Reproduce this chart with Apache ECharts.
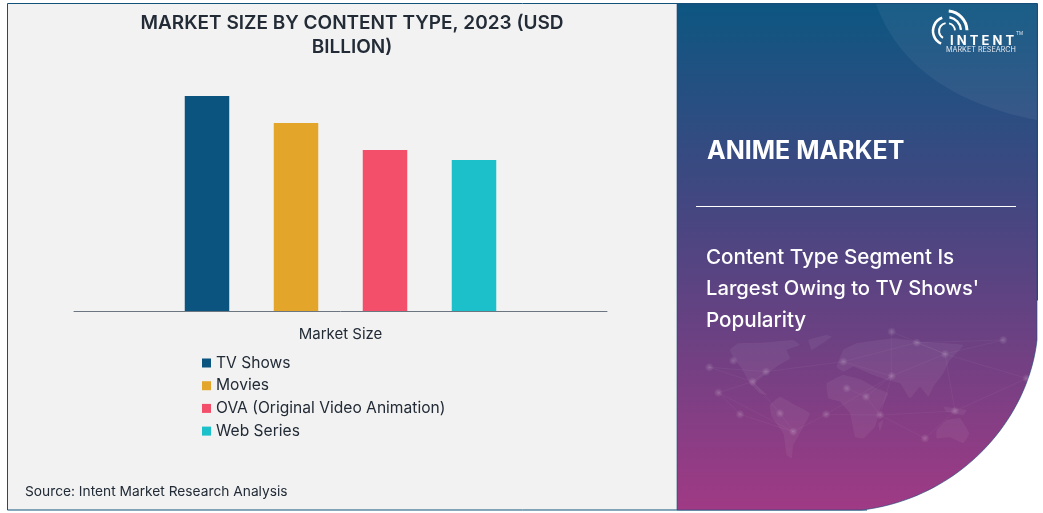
<!DOCTYPE html>
<html><head><meta charset="utf-8">
<style>html,body{margin:0;padding:0;background:#fff}#c{width:1043px;height:513px}</style>
<script src="https://cdn.jsdelivr.net/npm/echarts@6/dist/echarts.min.js"></script>
</head><body><div id="c"></div>
<script>
var categories = ['Market Size'];
var seriesNames = ['TV Shows','Movies','OVA (Original Video Animation)','Web Series'];
var tvShows = [21.5];
var movies = [18.8];
var ova = [16.1];
var webSeries = [15.1];
var seriesColors = ['#0b5480','#e3a62b','#f44f6a','#1cc0cb'];
var seriesValues = [tvShows, movies, ova, webSeries];

var FONT = 'Inter, "Noto Sans", sans-serif';

function bez(p0,p1,p2,p3,n){var o=[];for(var i=0;i<=n;i++){var t=i/n,u=1-t;
 o.push([u*u*u*p0[0]+3*u*u*t*p1[0]+3*u*t*t*p2[0]+t*t*t*p3[0],u*u*u*p0[1]+3*u*u*t*p1[1]+3*u*t*t*p2[1]+t*t*t*p3[1]]);}return o;}
function mp(a){return a.map(function(p){return [680+p[0]/3,330+p[1]/3];});}

var panelPts=[[677,4],[1037,4],[1037,340]].concat(bez([1037,340],[1028,420],[960,498],[862,510],40)).concat([[677,510]]);
var glossPts=[[876,4],[1037,4],[1037,120]].concat(bez([1037,120],[960,105],[900,70],[876,4],30));

// decorative world map backdrop (crop coordinates, not data)
var land=[
 [[150,60],[175,40],[250,38],[340,30],[360,45],[320,60],[330,85],[290,110],[255,135],[225,160],[262,195],[240,190],[210,160],[185,115],[165,90]],
 [[385,30],[440,15],[455,20],[420,45],[395,60]],
 [[270,225],[300,200],[345,225],[390,250],[365,300],[340,345],[335,385],[320,375],[310,310],[275,260]],
 [[440,160],[490,135],[545,150],[590,175],[625,190],[600,240],[585,290],[550,325],[525,320],[510,250],[480,215],[445,205]],
 [[470,110],[490,60],[530,40],[640,25],[720,35],[850,45],[810,90],[790,130],[760,170],[745,200],[720,170],[690,205],[660,160],[620,150],[580,135],[520,110],[490,125]],
 [[770,300],[800,270],[840,265],[868,310],[850,340],[810,322],[770,325]],
 [[790,230],[860,240],[850,255],[800,245]],
 [[595,280],[610,270],[600,305]]
];
var nodes=[[88,112],[160,92],[115,188],[180,253],[218,155],[258,125],[340,305],[438,253],[490,95],[635,138],[558,200],[600,255],[825,243],[795,72],[970,30],[635,5],[735,325],[1040,145],[500,175],[710,38],[300,250]];
var links=[[0,4],[0,5],[2,4],[2,3],[3,6],[4,5],[5,8],[6,7],[7,11],[7,9],[8,9],[9,13],[9,11],[10,11],[10,18],[9,10],[11,12],[12,13],[13,14],[13,15],[15,9],[12,16],[11,16],[13,17],[12,17],[8,19],[19,13],[20,6],[20,4],[14,19],[2,6]];

var graphics=[
 {type:'rect',z:-10,shape:{x:7.5,y:3.5,width:1030,height:506.5},style:{fill:'#f2f2f2',stroke:'#12527a',lineWidth:1}},
 {type:'polygon',z:-9,shape:{points:[[867,440],[1038,300],[1038,512],[867,512]]},style:{fill:'#ffffff'}},
 {type:'polygon',z:-8,shape:{points:panelPts},style:{fill:new echarts.graphic.LinearGradient(0,0,0,1,[{offset:0,color:'#0d5681'},{offset:0.42,color:'#474681'},{offset:1,color:'#a03a85'}]),stroke:'#1d4a78',lineWidth:0.6}},
 {type:'polygon',z:-7,shape:{points:glossPts},style:{fill:new echarts.graphic.LinearGradient(0,0,0,1,[{offset:0,color:'rgba(255,255,255,0.05)'},{offset:1,color:'rgba(255,255,255,0.06)'}])}}
];
land.forEach(function(l){graphics.push({type:'polygon',z:-6,shape:{points:mp(l),smooth:0.1},style:{fill:'rgba(255,255,255,0.055)'}});});
links.forEach(function(k){var a=mp([nodes[k[0]],nodes[k[1]]]);graphics.push({type:'line',z:-6,shape:{x1:a[0][0],y1:a[0][1],x2:a[1][0],y2:a[1][1]},style:{stroke:'rgba(255,255,255,0.07)',lineWidth:0.6}});});
mp(nodes).forEach(function(p){graphics.push({type:'circle',z:-6,shape:{cx:p[0],cy:p[1],r:4.5},style:{fill:new echarts.graphic.RadialGradient(0.5,0.5,0.5,[{offset:0,color:'rgba(255,255,255,0.2)'},{offset:1,color:'rgba(255,255,255,0)'}])}});});

// logo
[[20,-85,-2,3],[14,-80,-5,2.4],[8,-75,-5,1.8]].forEach(function(a){
 graphics.push({type:'arc',z:5,shape:{cx:947,cy:31,r:a[0],startAngle:a[1]*Math.PI/180,endAngle:a[2]*Math.PI/180,clockwise:true},style:{stroke:'#fff',lineWidth:a[3],fill:'none'}});});
[[14,-110,-245,2.6],[8,-100,-240,2]].forEach(function(a){
 graphics.push({type:'arc',z:5,shape:{cx:947,cy:31,r:a[0],startAngle:a[1]*Math.PI/180,endAngle:a[2]*Math.PI/180,clockwise:false},style:{stroke:'#fff',lineWidth:a[3],fill:'none'}});});

graphics=graphics.concat([
 {type:'line',z:5,shape:{x1:696,y1:206.5,x2:1016,y2:206.5},style:{stroke:'#ffffff',lineWidth:1}},
 {type:'text',z:5,x:707,y:139,style:{text:'ANIME MARKET',fill:'#fff',font:'700 25px '+FONT}},
 {type:'text',z:5,x:706,y:247,style:{text:'Content Type Segment Is',fill:'#fff',font:'500 20.6px '+FONT}},
 {type:'text',z:5,x:706,y:279,style:{text:"Largest Owing to TV Shows'",fill:'#fff',font:'500 20.2px '+FONT}},
 {type:'text',z:5,x:706,y:310,style:{text:'Popularity',fill:'#fff',font:'500 20.6px '+FONT}},
 {type:'text',z:5,x:25,y:485,style:{text:'Source: Intent Market Research Analysis',fill:'#222b36',font:'400 13.75px '+FONT}},
 {type:'text',z:5,x:950,y:35,style:{text:'I N T E N T',fill:'#fff',font:'700 13px '+FONT}},
 {type:'text',z:5,x:1016,y:31,style:{text:'TM',fill:'#dfe6ee',font:'400 4.5px '+FONT}},
 {type:'text',z:5,x:946,y:46,style:{text:'MARKET RESEARCH',fill:'#e3e8f0',font:'400 7.2px '+FONT}}
]);

var option={
 animation:false,
 title:{text:'MARKET SIZE BY CONTENT TYPE, 2023 (USD\nBILLION)',left:347,top:6,textAlign:'center',
  textStyle:{fontFamily:FONT,fontSize:19,fontWeight:600,color:'#222b36',lineHeight:24}},
 grid:{left:74,right:436,top:71,height:240},
 legend:{orient:'vertical',left:197,top:350,itemWidth:9,itemHeight:9,itemGap:6.7,icon:'rect',
  textStyle:{fontFamily:FONT,fontSize:15.6,lineHeight:15,color:'#222b36'},data:seriesNames},
 xAxis:{type:'category',data:categories,axisTick:{show:false},axisLine:{lineStyle:{color:'#6b7680',width:1}},
  axisLabel:{fontFamily:FONT,fontSize:15,color:'#222b36',margin:16}},
 yAxis:{type:'value',min:0,max:24,show:false,splitLine:{show:false}},
 series:seriesNames.map(function(n,i){return {name:n,type:'bar',data:seriesValues[i],barWidth:44.5,barGap:'100%',itemStyle:{color:seriesColors[i]}};}),
 graphic:{elements:graphics}
};
echarts.init(document.getElementById('c'),null,{renderer:'canvas'}).setOption(option);
</script></body></html>
